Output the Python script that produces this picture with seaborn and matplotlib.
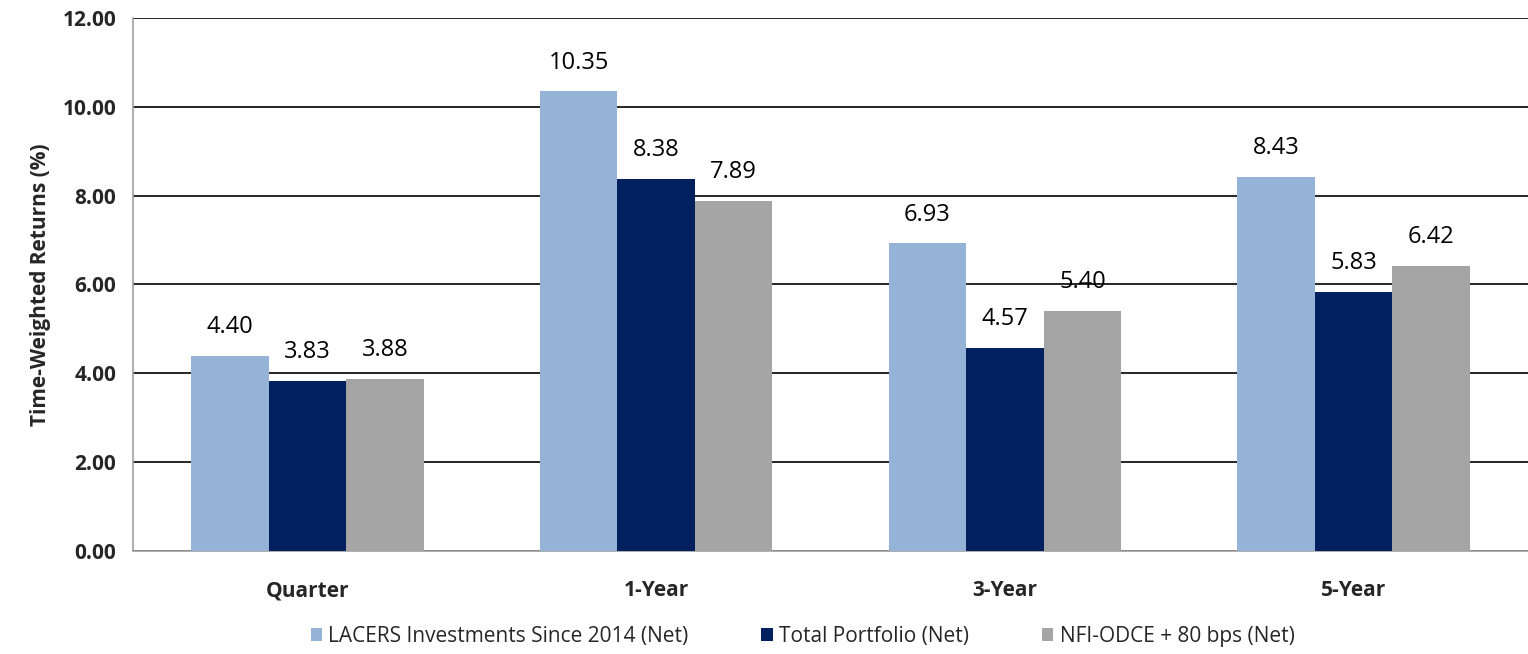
import seaborn as sns
import matplotlib.pyplot as plt
import pandas as pd

periodos = ["Quarter", "1-Year", "3-Year", "5-Year"]
series = ["LACERS Investments Since 2014 (Net)", "Total Portfolio (Net)", "NFI-ODCE + 80 bps (Net)"]
lacers = [4.40, 10.35, 6.93, 8.43]
total = [3.83, 8.38, 4.57, 5.83]
odce = [3.88, 7.89, 5.40, 6.42]
yticks = [0, 2, 4, 6, 8, 10, 12]

colores = ["#95B3D7", "#002060", "#A5A5A5"]

data = pd.DataFrame({
    "Periodo": periodos * 3,
    "Serie": [series[0]] * 4 + [series[1]] * 4 + [series[2]] * 4,
    "Valor": lacers + total + odce,
})

sns.set_style("white")
plt.rcParams["font.family"] = ["Open Sans", "DejaVu Sans"]

fig = plt.figure(figsize=(15.28, 6.54), dpi=100)
ax = fig.add_axes([0.087, 0.1575, 0.913, 0.815])

sns.barplot(data=data, x="Periodo", y="Valor", hue="Serie", order=periodos,
            hue_order=series, palette=colores, width=0.667, saturation=1,
            errorbar=None, linewidth=0, ax=ax, zorder=3)

# Etiquetas de datos
for cont in ax.containers:
    ax.bar_label(cont, fmt="%.2f", padding=12, fontsize=17, color="black")

ax.set_ylim(0, 12)
ax.set_xlim(-0.5, 3.5)
ax.set_yticks(yticks)
ax.set_yticklabels([f"{v:.2f}" for v in yticks], fontsize=15, fontweight="bold")
ax.yaxis.grid(True, color="black", linewidth=1.2, zorder=0)
ax.set_axisbelow(True)

# ticks en los bordes de categoria
ax.set_xticks([0, 1, 2, 3])
ax.set_xticklabels(periodos, fontsize=15, fontweight="bold")
ax.set_xticks([0.5, 1.5, 2.5], minor=True)
ax.tick_params(axis="x", which="major", length=0, pad=21)
ax.tick_params(axis="x", which="minor", length=6, color="#A0A0A0", width=1.2, direction="out")
ax.tick_params(axis="y", length=6, color="#A0A0A0", width=1.2, direction="out", pad=6)

for lado in ["top", "right"]:
    ax.spines[lado].set_visible(False)
ax.spines["left"].set_color("#A0A0A0")
ax.spines["bottom"].set_color("#A0A0A0")
ax.spines["left"].set_linewidth(1.2)
ax.spines["bottom"].set_linewidth(1.2)

ax.set_xlabel("")
ax.set_ylabel("Time-Weighted Returns (%)", fontsize=15, fontweight="bold", labelpad=8)

ax.legend(loc="center", bbox_to_anchor=(0.48, -0.16), ncol=3, frameon=False,
          fontsize=15, handlelength=0.55, handleheight=0.55, handletextpad=0.3,
          columnspacing=3.5)

fig.savefig("out.png", dpi=100)
